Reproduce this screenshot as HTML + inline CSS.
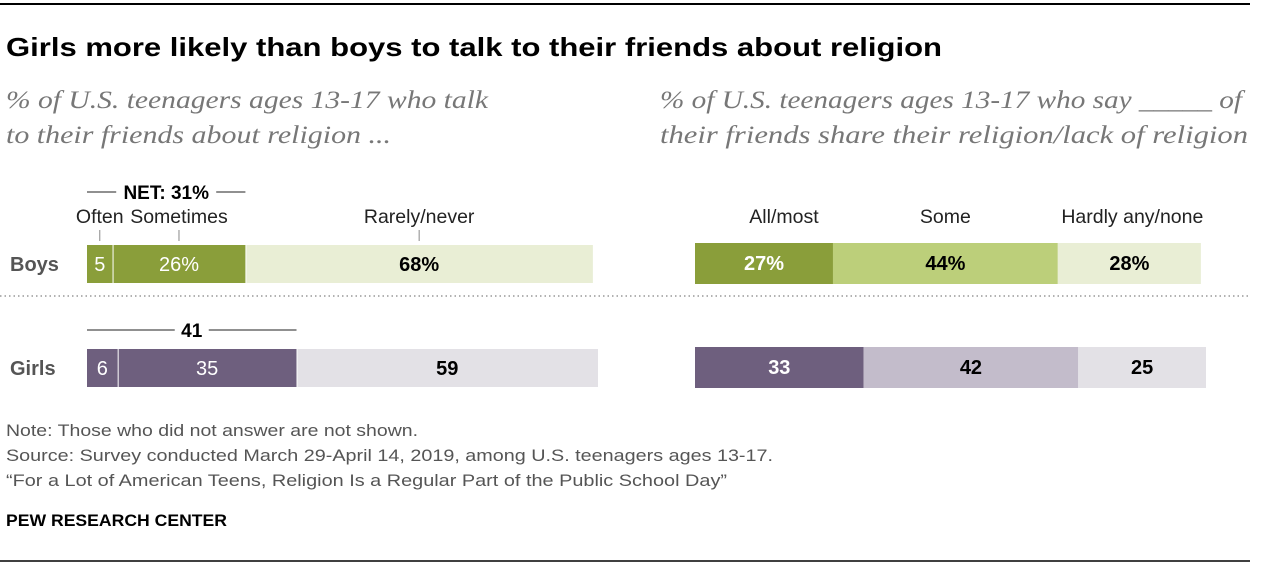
<!DOCTYPE html>
<html><head><meta charset="utf-8"><style>
body{margin:0;background:#fff;}
svg{display:block;font-family:"Liberation Sans",sans-serif;}
</style></head><body>
<svg id="chart" width="1262" height="568">
<line x1="0" y1="4" x2="1250" y2="4" stroke="#000" stroke-width="2"/>
<text x="6" y="56" font-size="26" font-weight="bold" textLength="936" lengthAdjust="spacingAndGlyphs" fill="#000">Girls more likely than boys to talk to their friends about religion</text>
<g font-family="Liberation Serif, serif" font-style="italic" font-size="25" fill="#777">
<text x="6" y="108" textLength="482" lengthAdjust="spacingAndGlyphs">% of U.S. teenagers ages 13-17 who talk</text>
<text x="6" y="143" textLength="385" lengthAdjust="spacingAndGlyphs">to their friends about religion ...</text>
<text x="660" y="108" textLength="582" lengthAdjust="spacingAndGlyphs">% of U.S. teenagers ages 13-17 who say _____ of</text>
<text x="660" y="143" textLength="588" lengthAdjust="spacingAndGlyphs">their friends share their religion/lack of religion</text>
</g>
<line x1="0" y1="296" x2="1250" y2="296" stroke="#999" stroke-width="1.5" stroke-dasharray="1.5,3"/>
<g id="marks"></g>
<g font-size="17" fill="#555">
<text x="6" y="436" textLength="412" lengthAdjust="spacingAndGlyphs">Note: Those who did not answer are not shown.</text>
<text x="6" y="461" textLength="767" lengthAdjust="spacingAndGlyphs">Source: Survey conducted March 29-April 14, 2019, among U.S. teenagers ages 13-17.</text>
<text x="6" y="486" textLength="721" lengthAdjust="spacingAndGlyphs">“For a Lot of American Teens, Religion Is a Regular Part of the Public School Day”</text>
</g>
<text x="6" y="526" font-size="17" font-weight="bold" fill="#000" textLength="221" lengthAdjust="spacingAndGlyphs">PEW RESEARCH CENTER</text>
<line x1="0" y1="561" x2="1250" y2="561" stroke="#000" stroke-width="1.5"/>
</svg>
<script>
const groups = ["Boys", "Girls"];
const talkCats = ["Often", "Sometimes", "Rarely/never"];
const talkBoys = [5, 26, 68];
const talkGirls = [6, 35, 59];
const netLabels = ["NET: 31%", "41"];
const shareCats = ["All/most", "Some", "Hardly any/none"];
const shareBoys = [27, 44, 28];
const shareGirls = [33, 42, 25];

const NS = "http://www.w3.org/2000/svg";
const g = document.getElementById("marks");
function el(tag, attrs, txt) {
  const e = document.createElementNS(NS, tag);
  for (const k in attrs) e.setAttribute(k, attrs[k]);
  if (txt !== undefined) e.textContent = txt;
  g.appendChild(e);
  return e;
}
const scale = 5.11;
const xL = v => 87 + v * scale;
const xR = v => 695 + v * scale;
const rowY = [245, 349];
const barH = 38;
const colors = [["#8a9e3a", "#bccf7a", "#e9eed5"], ["#6e5f7e", "#c3bccb", "#e3e1e6"]];
const leftColors = [["#8a9e3a", "#8a9e3a", "#e9eed5"], ["#6e5f7e", "#6e5f7e", "#e3e1e6"]];

[talkBoys, talkGirls].forEach((vals, r) => {
  const lab = el("text", {x: 10, y: rowY[r] + 26, "font-size": 20, "font-weight": "bold", fill: "#555"}, groups[r]);
  
  
  let cum = 0;
  vals.forEach((v, i) => {
    const x0 = xL(cum), x1 = xL(cum + v);
    const rect = el("rect", {x: x0 + (i ? 1 : 0), y: rowY[r], width: x1 - x0 - (i ? 1 : 0), height: barH, fill: leftColors[r][i]});
    
    
    const txt = (r === 0 && i > 0) ? v + "%" : String(v);
    const t = el("text", {x: (x0 + x1) / 2, y: rowY[r] + 26, "font-size": 20, "text-anchor": "middle", fill: i < 2 ? "#fff" : "#000", "font-weight": i < 2 ? "normal" : "bold"}, txt);
    
    
    if (r === 0) {
      const cx = (x0 + x1) / 2;
      const c = el("text", {x: cx, y: 223, "font-size": 19.5, "text-anchor": "middle", fill: "#222"}, talkCats[i]);
      
      
      const tk = el("line", {x1: cx, y1: 230, x2: cx, y2: 241, stroke: "#888", "stroke-width": 1});
      
      
    }
    cum += v;
  });
  const netEnd = xL(vals[0] + vals[1]);
  const ny = r === 0 ? 192 : 330;
  const mid = (xL(0) + netEnd) / 2;
  const halfW = r === 0 ? 50 : 17;
  const l1 = el("line", {x1: xL(0), y1: ny, x2: mid - halfW, y2: ny, stroke: "#222", "stroke-width": 1});
  
  
  const l2 = el("line", {x1: mid + halfW, y1: ny, x2: netEnd, y2: ny, stroke: "#222", "stroke-width": 1});
  
  
  const nt = el("text", {x: mid, y: ny + 7, "font-size": 19, "font-weight": "bold", "text-anchor": "middle", fill: "#000"}, netLabels[r]);
  
  
});

[shareBoys, shareGirls].forEach((vals, r) => {
  let cum = 0;
  vals.forEach((v, i) => {
    const x0 = xR(cum), x1 = xR(cum + v);
    const rect = el("rect", {x: x0, y: rowY[r] - 2, width: x1 - x0, height: barH + 3, fill: colors[r][i]});
    
    
    const txt = r === 0 ? v + "%" : String(v);
    const t = el("text", {x: (x0 + x1) / 2, y: rowY[r] + 25, "font-size": 20, "font-weight": "bold", "text-anchor": "middle", fill: i === 0 ? "#fff" : "#000"}, txt);
    
    
    if (r === 0) {
      const c = el("text", {x: (x0 + x1) / 2 + (i === 0 ? 20 : i === 2 ? 3 : 0), y: 223, "font-size": 19.5, "text-anchor": "middle", fill: "#222"}, shareCats[i]);
      
      
    }
    cum += v;
  });
});
</script>
</body></html>
